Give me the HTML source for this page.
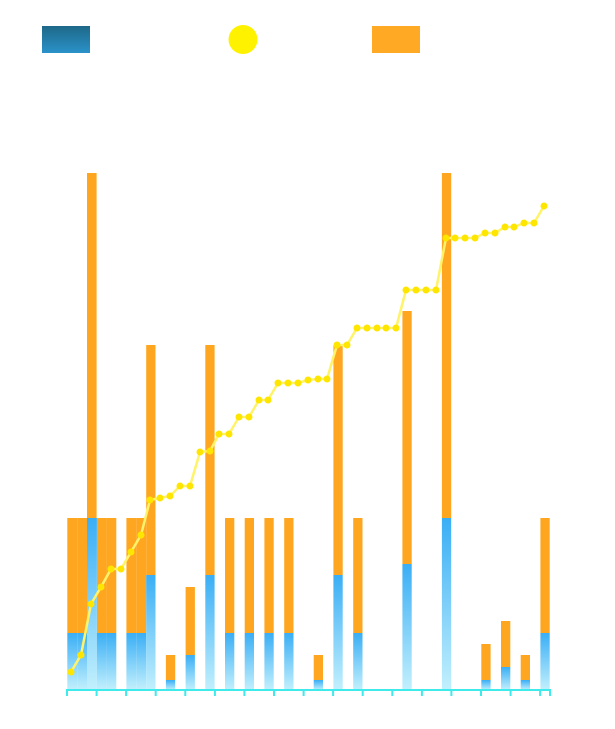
<!DOCTYPE html>
<html><head><meta charset="utf-8"><style>html,body{margin:0;padding:0;background:#fff}svg{display:block}</style></head>
<body>
<svg width="615" height="729" xmlns="http://www.w3.org/2000/svg">
<defs>
<linearGradient id="lb" x1="0" y1="0" x2="0" y2="1"><stop offset="0" stop-color="#1e6888"/><stop offset="1" stop-color="#2a92c9"/></linearGradient>
<linearGradient id="bb" x1="0" y1="0" x2="0" y2="1"><stop offset="0" stop-color="#3aaef5"/><stop offset="1" stop-color="#c2f0fd"/></linearGradient>
</defs>
<rect x="42" y="26" width="48" height="27" fill="url(#lb)"/>
<ellipse cx="243" cy="39.5" rx="14.5" ry="14.5" fill="#fff200"/>
<rect x="372" y="26" width="48" height="27" fill="#ffa925"/>
<g fill="#ffa620">
<rect x="67.3" y="518" width="9.9" height="115"/>
<rect x="77.2" y="518" width="9.9" height="115"/>
<rect x="87.0" y="173" width="9.6" height="345"/>
<rect x="96.9" y="518" width="9.9" height="115"/>
<rect x="106.7" y="518" width="9.6" height="115"/>
<rect x="126.4" y="518" width="9.9" height="115"/>
<rect x="136.3" y="518" width="9.9" height="115"/>
<rect x="146.2" y="345" width="9.3" height="230"/>
<rect x="165.9" y="655" width="9.3" height="25"/>
<rect x="185.6" y="587" width="9.3" height="68"/>
<rect x="205.3" y="345" width="9.3" height="230"/>
<rect x="225.0" y="518" width="9.3" height="115"/>
<rect x="244.7" y="518" width="9.3" height="115"/>
<rect x="264.4" y="518" width="9.3" height="115"/>
<rect x="284.2" y="518" width="9.3" height="115"/>
<rect x="313.7" y="655" width="9.3" height="25"/>
<rect x="333.4" y="345" width="9.3" height="230"/>
<rect x="353.2" y="518" width="9.3" height="115"/>
<rect x="402.4" y="311" width="9.3" height="253"/>
<rect x="441.9" y="173" width="9.3" height="345"/>
<rect x="481.3" y="644" width="9.3" height="36"/>
<rect x="501.0" y="621" width="9.3" height="46"/>
<rect x="520.7" y="655" width="9.3" height="25"/>
<rect x="540.4" y="518" width="9.3" height="115"/>
</g>
<g fill="url(#bb)">
<rect x="67.3" y="633" width="9.9" height="57"/>
<rect x="77.2" y="633" width="9.9" height="57"/>
<rect x="87.0" y="518" width="9.9" height="172"/>
<rect x="96.9" y="633" width="9.9" height="57"/>
<rect x="106.7" y="633" width="9.6" height="57"/>
<rect x="126.4" y="633" width="9.9" height="57"/>
<rect x="136.3" y="633" width="9.9" height="57"/>
<rect x="146.2" y="575" width="9.3" height="115"/>
<rect x="165.9" y="680" width="9.3" height="10"/>
<rect x="185.6" y="655" width="9.3" height="35"/>
<rect x="205.3" y="575" width="9.3" height="115"/>
<rect x="225.0" y="633" width="9.3" height="57"/>
<rect x="244.7" y="633" width="9.3" height="57"/>
<rect x="264.4" y="633" width="9.3" height="57"/>
<rect x="284.2" y="633" width="9.3" height="57"/>
<rect x="313.7" y="680" width="9.3" height="10"/>
<rect x="333.4" y="575" width="9.3" height="115"/>
<rect x="353.2" y="633" width="9.3" height="57"/>
<rect x="402.4" y="564" width="9.3" height="126"/>
<rect x="441.9" y="518" width="9.3" height="172"/>
<rect x="481.3" y="680" width="9.3" height="10"/>
<rect x="501.0" y="667" width="9.3" height="23"/>
<rect x="520.7" y="680" width="9.3" height="10"/>
<rect x="540.4" y="633" width="9.3" height="57"/>
</g>
<g stroke="#3eeaea" stroke-width="2" fill="none">
<line x1="66" y1="690" x2="551" y2="690"/>
<path d="M67 690v6M96.6 690v6M126.1 690v6M155.7 690v6M185.3 690v6M214.9 690v6M244.4 690v6M274 690v6M303.6 690v6M333.1 690v6M362.7 690v6M392.3 690v6M421.9 690v6M451.4 690v6M481 690v6M510.6 690v6M540.1 690v6M550 690v6"/>
</g>
<polyline fill="none" stroke="#fff36a" stroke-width="2.5" stroke-linejoin="round" points="71,672 81,655 91,604 101,587 111,569 121,569 131,552 141,535 150,500 160,498 170,496 180,486 190,486 200,452 210,451 219,434 229,434 239,417 249,417 259,400 268,400 278,383 288,383 298,383 308,380 318,379 327,379 337,345 347,345 357,328 367,328 377,328 386,328 396,328 406,290 416,290 426,290 436,290 446,238 455,238 465,238 475,238 485,233 495,233 505,227 514,227 524,223 534,223 544,206"/>
<g fill="#ffe600">
<circle cx="71" cy="672" r="3.5"/><circle cx="81" cy="655" r="3.5"/><circle cx="91" cy="604" r="3.5"/><circle cx="101" cy="587" r="3.5"/><circle cx="111" cy="569" r="3.5"/><circle cx="121" cy="569" r="3.5"/><circle cx="131" cy="552" r="3.5"/><circle cx="141" cy="535" r="3.5"/><circle cx="150" cy="500" r="3.5"/><circle cx="160" cy="498" r="3.5"/><circle cx="170" cy="496" r="3.5"/><circle cx="180" cy="486" r="3.5"/><circle cx="190" cy="486" r="3.5"/><circle cx="200" cy="452" r="3.5"/><circle cx="210" cy="451" r="3.5"/><circle cx="219" cy="434" r="3.5"/><circle cx="229" cy="434" r="3.5"/><circle cx="239" cy="417" r="3.5"/><circle cx="249" cy="417" r="3.5"/><circle cx="259" cy="400" r="3.5"/><circle cx="268" cy="400" r="3.5"/><circle cx="278" cy="383" r="3.5"/><circle cx="288" cy="383" r="3.5"/><circle cx="298" cy="383" r="3.5"/><circle cx="308" cy="380" r="3.5"/><circle cx="318" cy="379" r="3.5"/><circle cx="327" cy="379" r="3.5"/><circle cx="337" cy="345" r="3.5"/><circle cx="347" cy="345" r="3.5"/><circle cx="357" cy="328" r="3.5"/><circle cx="367" cy="328" r="3.5"/><circle cx="377" cy="328" r="3.5"/><circle cx="386" cy="328" r="3.5"/><circle cx="396" cy="328" r="3.5"/><circle cx="406" cy="290" r="3.5"/><circle cx="416" cy="290" r="3.5"/><circle cx="426" cy="290" r="3.5"/><circle cx="436" cy="290" r="3.5"/><circle cx="446" cy="238" r="3.5"/><circle cx="455" cy="238" r="3.5"/><circle cx="465" cy="238" r="3.5"/><circle cx="475" cy="238" r="3.5"/><circle cx="485" cy="233" r="3.5"/><circle cx="495" cy="233" r="3.5"/><circle cx="505" cy="227" r="3.5"/><circle cx="514" cy="227" r="3.5"/><circle cx="524" cy="223" r="3.5"/><circle cx="534" cy="223" r="3.5"/><circle cx="544" cy="206" r="3.5"/>
</g>
</svg>
</body></html>
